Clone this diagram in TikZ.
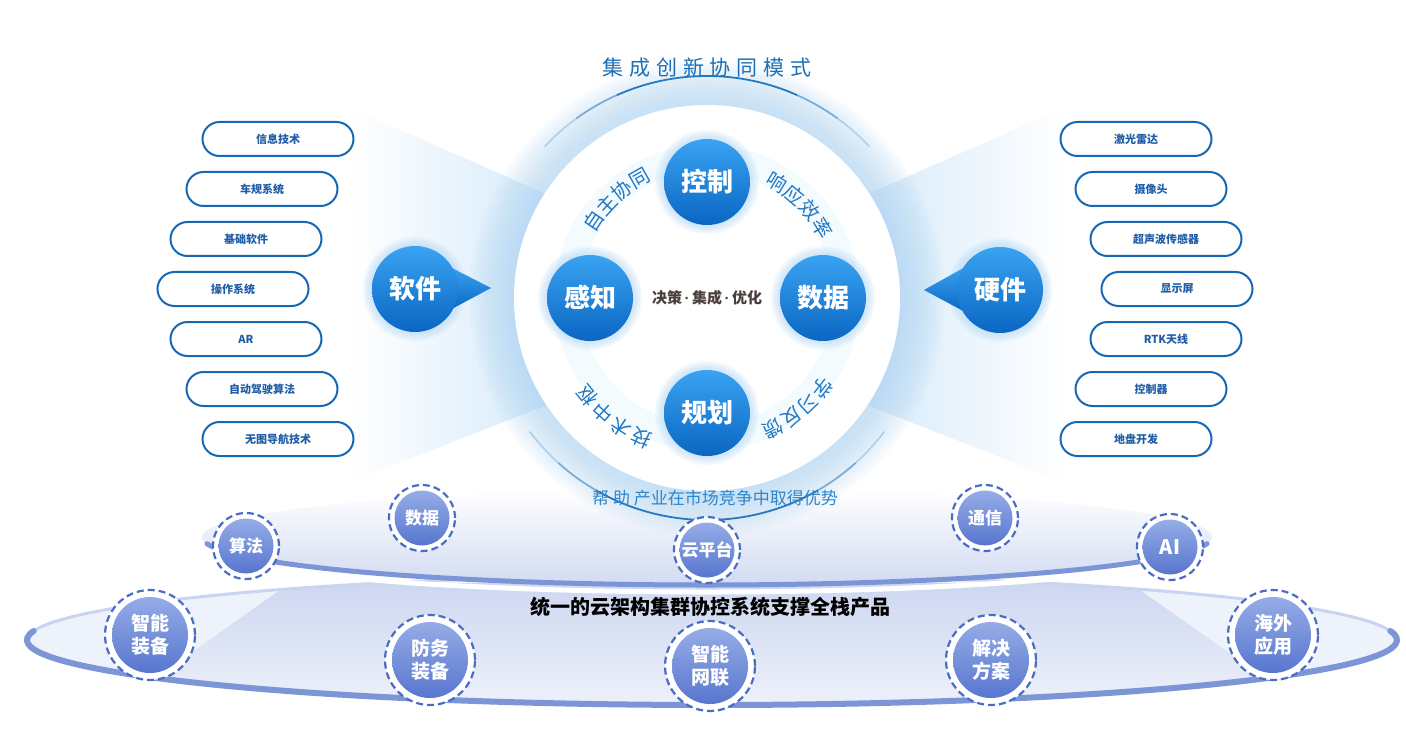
\documentclass[tikz,border=0pt]{standalone}
\usepackage{fontspec}
\setmainfont{Noto Sans CJK SC}
\newfontfamily\latinf{Liberation Sans}
\usetikzlibrary{calc}
\definecolor{pillblue}{HTML}{1668B4}
\definecolor{pilltext}{HTML}{1F5EA6}
\definecolor{nodetop}{HTML}{3AA3F2}
\definecolor{nodebot}{HTML}{0A66C2}
\definecolor{haloblue}{HTML}{B3D8F5}
\definecolor{arcblue}{HTML}{2479C2}
\definecolor{labelblue}{HTML}{2178C3}
\definecolor{fanblue}{HTML}{D3E9FA}
\definecolor{rimblue}{HTML}{7B95D7}
\definecolor{dashblue}{HTML}{4A6CC2}
\definecolor{disctop}{HTML}{95ACE7}
\definecolor{discbot}{HTML}{5876CE}
\definecolor{lavmid}{HTML}{CDD7F0}
\definecolor{lavup}{HTML}{D2DBF2}
\definecolor{lavlight}{HTML}{EEF2FA}
\definecolor{lavedge}{HTML}{C9D4F0}
\definecolor{centertext}{HTML}{4A3F3C}
\definecolor{titleblue}{HTML}{1F6FB7}
\definecolor{helpblue}{HTML}{2E86CC}
\newcommand\myarcseg[4]{\draw[arcblue, line width=1.8pt, opacity=#4] ($(707,298)+(#1:#3)$) arc[start angle=#1, end angle=#2, radius=#3];}
\newcommand\mydot{{\latinf\bfseries\,·\,}}
\begin{document}
\begin{tikzpicture}[x=1pt,y=-1pt,
  pill/.style={draw=pillblue, line width=2pt, fill=white, rounded corners=17pt, minimum width=151pt, minimum height=34pt, inner sep=0pt, text=pilltext, font=\fontsize{11}{13}\selectfont\bfseries},
  mnode/.style={circle, minimum size=86pt, inner sep=0pt, top color=nodetop, bottom color=nodebot, text=white, font=\fontsize{26}{28}\selectfont\bfseries},
  arclabel/.style={text=labelblue, font=\fontsize{20}{22}\selectfont, inner sep=0pt},
  bring/.style={circle, draw=dashblue, line width=2.2pt, dash pattern=on 7pt off 4pt, fill=white, minimum size=90pt, inner sep=0pt},
  sring/.style={bring, minimum size=66pt},
  bdisc/.style={circle, top color=disctop, bottom color=discbot, minimum size=76pt, inner sep=0pt, text=white, align=center, font=\fontsize{19}{23}\selectfont\bfseries},
  sdisc/.style={bdisc, minimum size=55pt, font=\fontsize{17}{20}\selectfont\bfseries},
]
\useasboundingbox (0,0) rectangle (1406,746);
\fill[white] (0,0) rectangle (1406,746);
\coordinate (C) at (707,298);

% ---------- bottom platform ----------
\fill[lavlight] (712,640) ellipse[x radius=685, y radius=65];
\begin{scope}
  \clip (712,640) ellipse[x radius=685, y radius=65];
  \shade[top color=lavmid, bottom color=lavlight] (290,583) -- (1130,583) -- (1310,710) -- (110,710) -- cycle;
\end{scope}
\draw[lavedge, line width=3pt] (712,640) ellipse[x radius=685, y radius=65];
\draw[rimblue, line width=6pt, line cap=round] ($(712,640)+(188:685 and 65)$) arc[start angle=188, end angle=-8, x radius=685, y radius=65];

\draw[white, line width=5pt] ($(707,544)+(165:505 and 48)$) arc[start angle=165, end angle=15, x radius=505, y radius=48];
\shade[top color=white, bottom color=lavup] (707,537) ellipse[x radius=505, y radius=48];
\draw[rimblue, line width=5pt, line cap=round] ($(707,537)+(172:505 and 48)$) arc[start angle=172, end angle=8, x radius=505, y radius=48];

% ---------- fans ----------
\shade[left color=white, right color=fanblue] (350,108) -- (560,200) -- (560,400) -- (350,482) -- cycle;
\shade[left color=fanblue, right color=white] (854,200) -- (1064,108) -- (1064,482) -- (854,400) -- cycle;

% ---------- main circle ----------
\foreach \rr in {196,199,...,238} {\fill[haloblue, opacity=0.07] (C) circle[radius=\rr];}
\fill[white] (C) circle[radius=193];
\draw[blue!30!cyan!10, line width=26pt, opacity=0.4] (C) circle[radius=140];
\myarcseg{-137}{-126}{222}{0.25}
\myarcseg{-126}{-114}{222}{0.55}
\myarcseg{-114}{-66}{222}{1}
\myarcseg{-66}{-54}{222}{0.55}
\myarcseg{-54}{-43}{222}{0.25}
\myarcseg{143}{132}{222}{0.25}
\myarcseg{132}{120}{222}{0.55}
\myarcseg{120}{60}{222}{1}
\myarcseg{60}{48}{222}{0.55}
\myarcseg{48}{37}{222}{0.25}

\node[text=titleblue, font=\fontsize{21}{24}\selectfont\addfontfeature{LetterSpace=28}] (title) at (707,68) {集成创新协同模式};
\node[text=helpblue, font=\fontsize{17}{20}\selectfont] (help) at (715,498) {帮\hspace{4pt}助\hspace{4pt}产业在市场竞争中取得优势};

% ---------- halos of blue nodes ----------
\foreach \px/\py in {707/182, 590/298, 823/298, 707/413, 415/289, 1000/290} {
  \foreach \rr in {44,46,...,52} {\fill[haloblue, opacity=0.16] (\px,\py) circle[radius=\rr];}
}
\shade[top color=nodetop, bottom color=nodebot] (448,266) -- (491,288) -- (448,311) -- cycle;
\shade[top color=nodetop, bottom color=nodebot] (967,266) -- (924,290) -- (967,313) -- cycle;

\node[mnode] (kz) at (707,182) {控制};
\node[mnode] (gz) at (590,298) {感知};
\node[mnode] (sj) at (823,298) {数据};
\node[mnode] (gh) at (707,413) {规划};
\node[mnode] (rj) at (415,289) {软件};
\node[mnode] (yj) at (1000,290) {硬件};

\node[text=centertext, font=\fontsize{15}{18}\selectfont\bfseries, inner sep=0pt] (ctr) at (707,298) {决策\mydot 集成\mydot 优化};

% ---------- arc labels, one character at a time, written clockwise ----------
\foreach \ch [count=\i] in {自,主,协,同} {
  \pgfmathsetmacro\ang{146-(\i-1)*8.8}
  \node[arclabel, rotate=\ang-90] (la\i) at ($(C)+(-\ang:137)$) {\ch};
}
\foreach \ch [count=\i] in {响,应,效,率} {
  \pgfmathsetmacro\ang{59-(\i-1)*9.2}
  \node[arclabel, rotate=\ang-90] (lb\i) at ($(C)+(-\ang:135)$) {\ch};
}
\foreach \ch [count=\i] in {技,术,中,枢} {
  \pgfmathsetmacro\ang{245-(\i-1)*8.6}
  \node[arclabel, rotate=\ang-90] (lc\i) at ($(C)+(-\ang:155)$) {\ch};
}
\foreach \ch [count=\i] in {学,习,反,馈} {
  \pgfmathsetmacro\ang{322-(\i-1)*8.4}
  \node[arclabel, rotate=\ang-90] (ld\i) at ($(C)+(-\ang:146)$) {\ch};
}

% ---------- pills ----------
\node[pill] (p1) at (278,139) {信息技术};
\node[pill] (p2) at (262,189) {车规系统};
\node[pill] (p3) at (246,239) {基础软件};
\node[pill] (p4) at (233,289) {操作系统};
\node[pill] (p5) at (246,339) {AR};
\node[pill] (p6) at (262,389) {自动驾驶算法};
\node[pill] (p7) at (278,439) {无图导航技术};

\node[pill] (q1) at (1136,139) {激光雷达};
\node[pill] (q2) at (1151,189) {摄像头};
\node[pill] (q3) at (1166,239) {超声波传感器};
\node[pill] (q4) at (1177,289) {显示屏};
\node[pill] (q5) at (1166,339) {RTK天线};
\node[pill] (q6) at (1151,389) {控制器};
\node[pill] (q7) at (1136,439) {地盘开发};

% ---------- platform text ----------
\node[text=black, font=\fontsize{20}{24}\selectfont\bfseries] (base) at (710,607) {统一的云架构集群协控系统支撑全栈产品};

% ---------- small circles ----------
\node[sring] (r1) at (246,546) {};
\node[sdisc] (c1) at (246,546) {算法};
\node[sring] (r2) at (422,518) {};
\node[sdisc] (c2) at (422,518) {数据};
\node[sring] (r3) at (707,550) {};
\node[sdisc] (c3) at (707,550) {云平台};
\node[sring] (r4) at (985,518) {};
\node[sdisc] (c4) at (985,518) {通信};
\node[sring] (r5) at (1170,547) {};
\node[sdisc, font=\fontsize{20}{22}\selectfont\bfseries] (c5) at (1170,547) {AI};

% ---------- big circles ----------
\node[bring] (b1) at (150,635) {};
\node[bdisc] (d1) at (150,635) {智能\\装备};
\node[bring] (b2) at (430,660) {};
\node[bdisc] (d2) at (430,660) {防务\\装备};
\node[bring] (b3) at (710,666) {};
\node[bdisc] (d3) at (710,666) {智能\\网联};
\node[bring] (b4) at (991,660) {};
\node[bdisc] (d4) at (991,660) {解决\\方案};
\node[bring] (b5) at (1273,635) {};
\node[bdisc] (d5) at (1273,635) {海外\\应用};
\end{tikzpicture}
\end{document}
